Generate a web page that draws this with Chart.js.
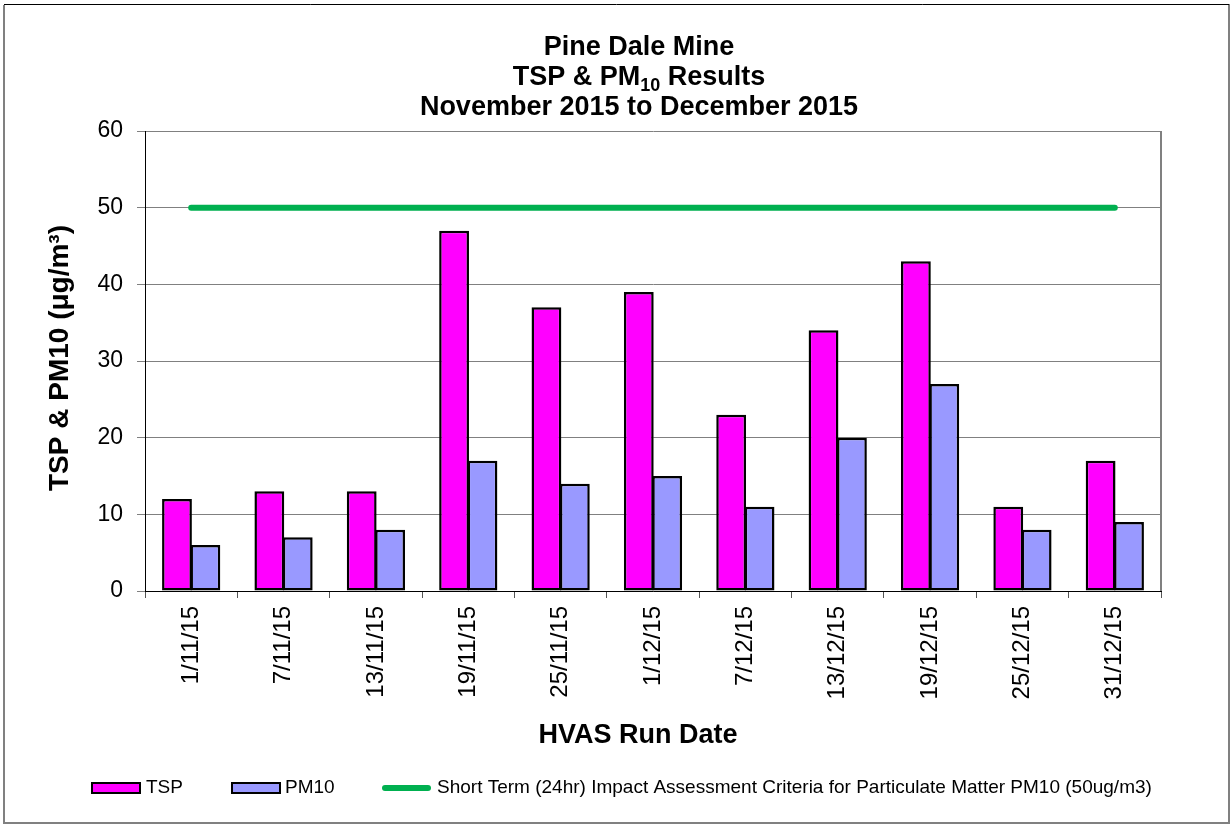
<!DOCTYPE html>
<html>
<head>
<meta charset="utf-8">
<script src="https://cdn.jsdelivr.net/npm/chart.js@4.4.1/dist/chart.umd.min.js"></script>
<style>
  html, body { margin: 0; padding: 0; background: #fff; }
  #wrap { width: 1232px; height: 825px; position: relative; }
</style>
</head>
<body>
<div id="wrap"><canvas id="c" width="1232" height="825"></canvas></div>
<script>
const categories = ['1/11/15','7/11/15','13/11/15','19/11/15','25/11/15','1/12/15','7/12/15','13/12/15','19/12/15','25/12/15','31/12/15'];
const tspValues  = [12, 13, 13, 47, 37, 39, 23, 34, 43, 11, 17];
const pm10Values = [6, 7, 8, 17, 14, 15, 11, 20, 27, 8, 9];
const criteriaValues = [50, 50, 50, 50, 50, 50, 50, 50, 50, 50, 50];
const yTicks = [0, 10, 20, 30, 40, 50, 60];

const seriesNames = ['TSP', 'PM10', 'Short Term (24hr) Impact Assessment Criteria for Particulate Matter PM10 (50ug/m3)'];
const titleLines = ['Pine Dale Mine', 'TSP & PM10 Results', 'November 2015 to December 2015'];
const yTitle = 'TSP & PM10 (\u03bcg/m\u00b3)';
const xTitle = 'HVAS Run Date';

const FONT = "'Liberation Sans', Arial, sans-serif";
const COL_TSP = '#FF00FF', COL_PM = '#9999FF', COL_LINE = '#00B050';

const decor = {
  id: 'decor',
  beforeDraw(chart) {
    const ctx = chart.ctx;
    ctx.save();
    ctx.fillStyle = '#fff';
    ctx.fillRect(0, 0, chart.width, chart.height);
    ctx.restore();
  },
  afterDraw(chart) {
    const ctx = chart.ctx;
    const a = chart.chartArea;
    ctx.save();
    // plot area right border
    ctx.strokeStyle = '#808080';
    ctx.lineWidth = 2;
    ctx.beginPath();
    ctx.moveTo(a.right, a.top); ctx.lineTo(a.right, a.bottom);
    ctx.stroke();
    // outer frame
    ctx.strokeStyle = '#808080';
    ctx.lineWidth = 2;
    ctx.beginPath();
    ctx.moveTo(4, 5); ctx.lineTo(4, 823); ctx.lineTo(1229, 823); ctx.lineTo(1229, 4);
    ctx.stroke();
    ctx.strokeStyle = '#000';
    ctx.lineWidth = 1;
    ctx.beginPath();
    ctx.moveTo(4, 4.5); ctx.lineTo(1229, 4.5);
    ctx.stroke();

    // title
    ctx.fillStyle = '#000';
    ctx.textBaseline = 'alphabetic';
    ctx.textAlign = 'left';
    const cx = 639;
    const big = 'bold 27px ' + FONT, small = 'bold 18px ' + FONT;
    ctx.font = big;
    let w = ctx.measureText(titleLines[0]).width;
    ctx.fillText(titleLines[0], cx - w / 2, 55);
    // line 2 with subscript
    const p1 = 'TSP & PM', sub = '10', p2 = ' Results';
    ctx.font = big; const w1 = ctx.measureText(p1).width, w3 = ctx.measureText(p2).width;
    ctx.font = small; const w2 = ctx.measureText(sub).width;
    let x0 = cx - (w1 + w2 + w3) / 2;
    ctx.font = big; ctx.fillText(p1, x0, 85);
    ctx.font = small; ctx.fillText(sub, x0 + w1, 91);
    ctx.font = big; ctx.fillText(p2, x0 + w1 + w2, 85);
    w = ctx.measureText(titleLines[2]).width;
    ctx.fillText(titleLines[2], cx - w / 2, 115);

    // x title
    ctx.textAlign = 'center';
    ctx.textBaseline = 'middle';
    ctx.fillText(xTitle, 638, 736);

    // y title
    ctx.save();
    ctx.translate(60, 358);
    ctx.rotate(-Math.PI / 2);
    ctx.font = 'bold 28px ' + FONT;
    ctx.fillText(yTitle, 0, 0);
    ctx.restore();

    // legend
    const ly = 788;
    ctx.lineWidth = 2;
    ctx.strokeStyle = '#000';
    ctx.fillStyle = COL_TSP;
    ctx.fillRect(92, 783, 48, 10); ctx.strokeRect(92, 783, 48, 10);
    ctx.fillStyle = COL_PM;
    ctx.fillRect(232, 783, 48, 10); ctx.strokeRect(232, 783, 48, 10);
    ctx.strokeStyle = COL_LINE;
    ctx.lineWidth = 6; ctx.lineCap = 'round';
    ctx.beginPath(); ctx.moveTo(385, ly); ctx.lineTo(428, ly); ctx.stroke();
    ctx.fillStyle = '#000';
    ctx.font = '19px ' + FONT;
    ctx.textAlign = 'left';
    ctx.textBaseline = 'middle';
    ctx.fillText(seriesNames[0], 146, ly);
    ctx.fillText(seriesNames[1], 285, ly);
    ctx.fillText(seriesNames[2], 437, ly);
    ctx.restore();
  }
};

new Chart(document.getElementById('c'), {
  type: 'bar',
  data: {
    labels: categories,
    datasets: [
      { type: 'line', label: seriesNames[2], data: criteriaValues, borderColor: COL_LINE, backgroundColor: COL_LINE,
        borderWidth: 6, borderCapStyle: 'round', pointRadius: 0, fill: false, order: 0 },
      { label: seriesNames[0], data: tspValues, backgroundColor: COL_TSP, borderColor: '#000', borderWidth: 2.5,
        borderSkipped: false, categoryPercentage: 0.615, barPercentage: 1.05, order: 1 },
      { label: seriesNames[1], data: pm10Values, backgroundColor: COL_PM, borderColor: '#000', borderWidth: 2.5,
        borderSkipped: false, categoryPercentage: 0.615, barPercentage: 1.05, order: 1 }
    ]
  },
  options: {
    responsive: false,
    animation: false,
    devicePixelRatio: 1,
    layout: { padding: { left: 10, right: 71, top: 131, bottom: 84 } },
    plugins: { legend: { display: false }, title: { display: false }, tooltip: { enabled: false } },
    scales: {
      x: {
        offset: true,
        grid: { display: true, offset: true, drawOnChartArea: false, drawTicks: true, tickLength: 7, color: '#555', lineWidth: 1 },
        border: { display: true, color: '#000', width: 1 },
        ticks: { color: '#000', font: { family: FONT, size: 24 }, minRotation: 90, maxRotation: 90, padding: 8, autoSkip: false },
        afterFit(scale) { scale.height = 150; }
      },
      y: {
        min: 0, max: 60,
        afterBuildTicks(scale) { scale.ticks = yTicks.map(v => ({ value: v })); },
        grid: { color: '#808080', lineWidth: 1, tickLength: 8, tickColor: '#808080' },
        border: { display: true, color: '#000', width: 1 },
        ticks: { color: '#000', font: { family: FONT, size: 23 }, padding: 14 },
        afterFit(scale) { scale.width = 135; }
      }
    }
  },
  plugins: [decor]
});
</script>
</body>
</html>
